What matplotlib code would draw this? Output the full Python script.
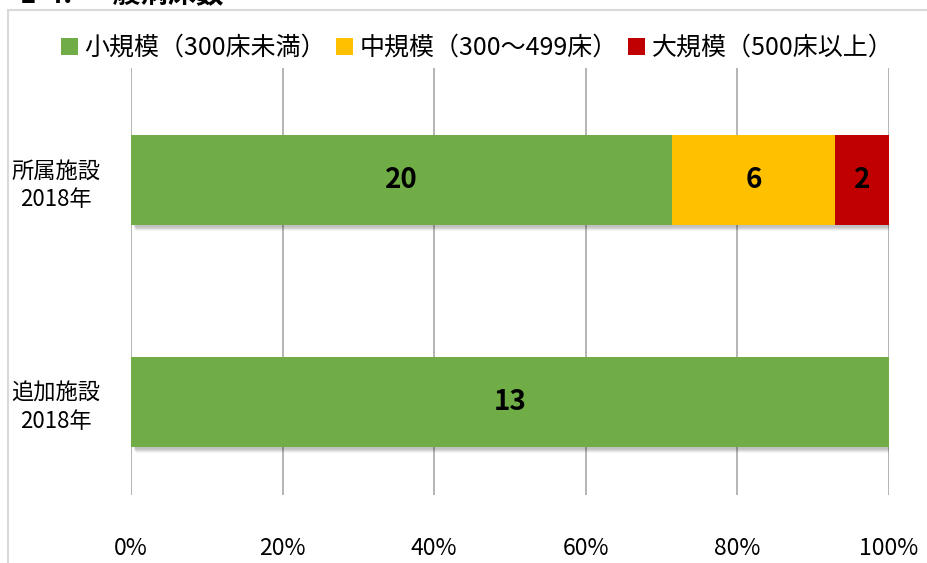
import numpy as np
from matplotlib import pyplot as plt
import matplotlib.patches as patches
import matplotlib.transforms as mtransforms

plt.rcParams['font.family'] = ['Noto Sans CJK JP', 'DejaVu Sans']

# data
facilities = ['追加施設\n2018年', '所属施設\n2018年']
series = ['小規模（300床未満）', '中規模（300〜499床）', '大規模（500床以上）']
small = [13, 20]
medium = [0, 6]
large = [0, 2]
colors = ['#70ad47', '#ffc000', '#c00000']
ticks = [0, 20, 40, 60, 80, 100]

W, H = 928, 563
fig = plt.figure(figsize=(W / 100, H / 100), dpi=100)

# outer chart border (runs off the right and bottom edges)
fig.add_artist(patches.Rectangle((8 / W, -0.1), 1.2, (H - 10) / H + 0.1,
                                 transform=fig.transFigure, fill=False,
                                 ec='#d9d9d9', lw=1.5))

# section heading, partly cut by the top edge
fig.text(20 / W, 1 - 3 / H, '1-4.  一般病床数', fontsize=20, fontweight='bold',
         va='baseline', ha='left')

ax = fig.add_axes([131 / W, 1 - 495 / H, (889 - 131) / W, (495 - 68) / H])
ax.set_xlim(0, 100)
ax.set_ylim(-93 / 222, 1 + 112 / 222)

vals = np.array([small, medium, large], dtype=float)
totals = vals.sum(axis=0)
pct = vals / totals * 100
y = np.arange(len(facilities))
bh = 90 / 222

# soft drop shadow under each bar
for k in range(6):
    off = mtransforms.offset_copy(ax.transData, fig=fig, x=2 + k * 0.6,
                                  y=-(2 + k * 0.8), units='dots')
    ax.barh(y, 100, height=bh, color='#000000', alpha=0.045, transform=off,
            zorder=1, lw=0)

left = np.zeros(len(facilities))
for i, name in enumerate(series):
    bars = ax.barh(y, pct[i], left=left, height=bh, color=colors[i],
                   label=name, zorder=2, lw=0)
    for j, b in enumerate(bars):
        if vals[i, j] > 0:
            ax.text(left[j] + pct[i, j] / 2, y[j], f'{int(vals[i, j])}',
                    ha='center', va='center', fontsize=20, fontweight='bold',
                    color='black', zorder=3)
    left += pct[i]

ax.set_xticks(ticks)
ax.set_xticklabels([f'{t}%' for t in ticks], fontsize=16.5)
ax.set_yticks(y)
ax.set_yticklabels(facilities, fontsize=16, linespacing=1.3,
                   multialignment='center')
ax.tick_params(length=0)
ax.tick_params(axis='x', pad=30)
ax.tick_params(axis='y', pad=22)
ax.grid(axis='x', color='#b4b4b4', lw=1.4, zorder=0)
ax.set_axisbelow(True)
for s in ax.spines.values():
    s.set_visible(False)

fig.legend(loc='center', bbox_to_anchor=(477 / W, 1 - 48 / H), ncol=3,
           frameon=False, fontsize=18, handlelength=0.7, handleheight=0.7,
           handletextpad=0.25, columnspacing=0.4, borderpad=0)

fig.savefig('out.png', dpi=100)
